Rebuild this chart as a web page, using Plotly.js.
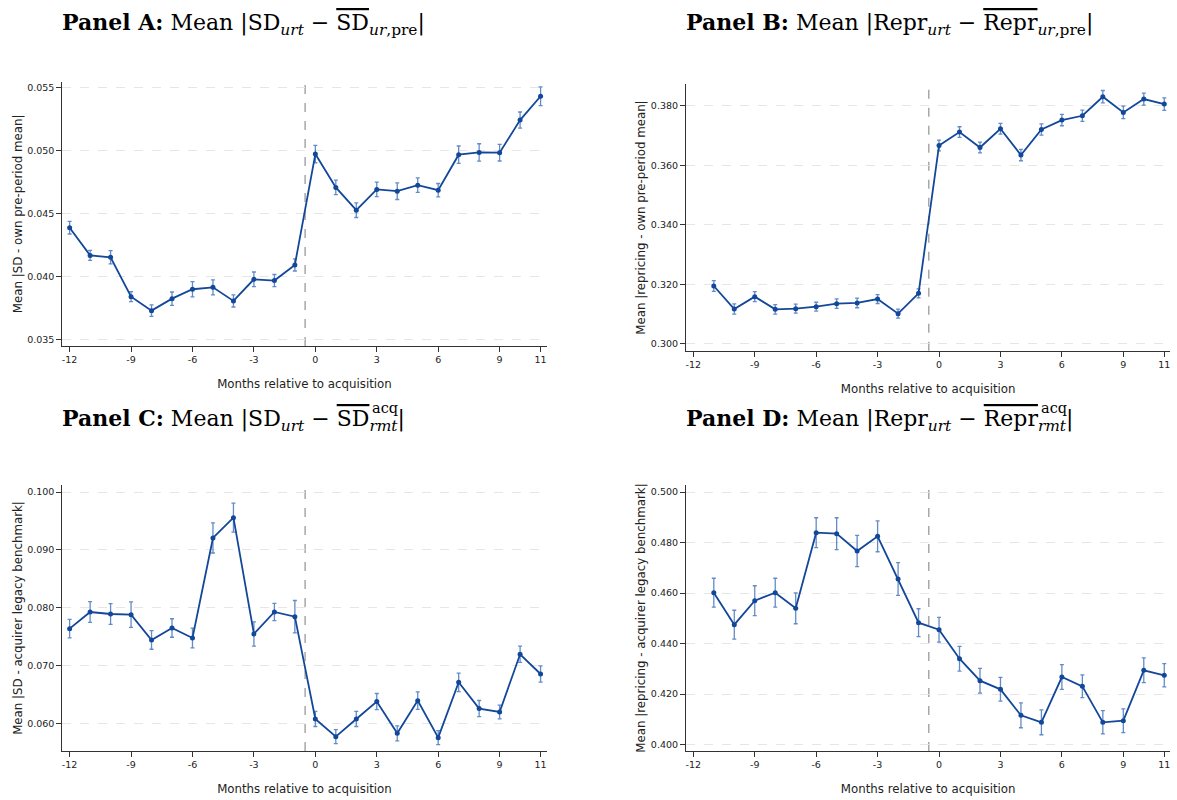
<!DOCTYPE html>
<html>
<head>
<meta charset="utf-8">
<script src="https://cdn.plot.ly/plotly-3.0.1.min.js"></script>
<style>html,body{margin:0;padding:0;background:#fff;}#chart{width:1177px;height:800px;}</style>
</head>
<body>
<div id="chart"></div>
<script>
// Months relative to acquisition
const monthsAC = [-12,-11,-10,-9,-8,-7,-6,-5,-4,-3,-2,-1,0,1,2,3,4,5,6,7,8,9,10,11];
const monthsBD = [-11,-10,-9,-8,-7,-6,-5,-4,-3,-2,-1,0,1,2,3,4,5,6,7,8,9,10,11];
const xTickVals = [-12,-9,-6,-3,0,3,6,9,11];
const xTickText = ['-12','-9','-6','-3','0','3','6','9','11'];

// Panel A: Mean |SD - own pre-period mean|
const meanA = [0.0439,0.0417,0.04155,0.03842,0.03731,0.03826,0.03901,0.03916,0.03808,0.0398,0.0397,0.04094,
               0.04975,0.0471,0.04529,0.04694,0.0468,0.04728,0.04688,0.0497,0.04988,0.04986,0.05245,0.05434];
const errA  = [0.0005,0.0004,0.00053,0.0004,0.00045,0.00053,0.0006,0.0006,0.00048,0.00058,0.00048,0.00048,
               0.00069,0.00058,0.00058,0.00058,0.00066,0.00058,0.00053,0.00069,0.00069,0.00066,0.00064,0.00074];

// Panel B: Mean |repricing - own pre-period mean|
const meanB = [0.3194,0.31167,0.31582,0.31156,0.3118,0.31245,0.31346,0.3137,0.31503,0.3101,0.31694,
               0.36665,0.37114,0.36597,0.37226,0.3634,0.372,0.37518,0.37663,0.38303,0.37776,0.38224,0.38056];
const errB  = [0.0018,0.0017,0.0017,0.0016,0.0015,0.0015,0.0016,0.0016,0.0015,0.0015,0.0015,
               0.0018,0.0018,0.0018,0.0018,0.0019,0.0019,0.0019,0.0019,0.0021,0.0021,0.002,0.0021];

// Panel C: Mean |SD - acquirer legacy benchmark|
const meanC = [0.07637,0.07925,0.0789,0.07879,0.07441,0.07648,0.07476,0.09205,0.09556,0.07545,0.07925,0.07844,
               0.06075,0.05769,0.06075,0.06375,0.05827,0.06392,0.05752,0.06709,0.06254,0.06196,0.07193,0.06853];
const errC  = [0.0016,0.0018,0.0018,0.0022,0.0016,0.0016,0.0017,0.0026,0.0025,0.0021,0.0015,0.0028,
               0.0013,0.0012,0.0013,0.0014,0.0013,0.0015,0.0012,0.0016,0.0014,0.0012,0.0014,0.0014];

// Panel D: Mean |repricing - acquirer legacy benchmark|
const meanD = [0.46016,0.4475,0.457,0.46016,0.45396,0.4839,0.48351,0.47665,0.48246,0.46557,0.44829,
               0.44552,0.43404,0.42533,0.4219,0.41161,0.40884,0.42678,0.42309,0.40884,0.4095,0.42942,0.42744];
const errD  = [0.0057,0.0057,0.0059,0.0057,0.0061,0.0059,0.0063,0.0062,0.0061,0.0065,0.0055,
               0.0049,0.0049,0.0049,0.0047,0.0049,0.0049,0.0049,0.0045,0.0046,0.0047,0.0049,0.0046];

const yTitles = ['Mean |SD - own pre-period mean|','Mean |repricing - own pre-period mean|',
                 'Mean |SD - acquirer legacy benchmark|','Mean |repricing - acquirer legacy benchmark|'];
const xTitle = 'Months relative to acquisition';
const eventLine = -0.5;

const LINE = '#12479a';
const ERR = 'rgba(45,100,180,0.75)';

function trace(x, y, e, xa, ya) {
  return {
    type: 'scatter', mode: 'lines+markers', x: x, y: y, xaxis: xa, yaxis: ya,
    line: {color: LINE, width: 1.8},
    marker: {color: LINE, size: 5},
    error_y: {type: 'data', array: e, visible: true, color: ERR, thickness: 1.3, width: 2},
    showlegend: false, hoverinfo: 'x+y'
  };
}

const data = [
  trace(monthsAC, meanA, errA, 'x', 'y'),
  trace(monthsBD, meanB, errB, 'x2', 'y2'),
  trace(monthsAC, meanC, errC, 'x3', 'y3'),
  trace(monthsBD, meanD, errD, 'x4', 'y4')
];

const tickFont = {family: 'DejaVu Sans', size: 9.5, color: '#222'};
const titleFont = {family: 'DejaVu Sans', size: 11.8, color: '#222'};

function xaxis(domain, anchor) {
  return {
    domain: domain, anchor: anchor, range: [-12.36, 11.3],
    tickvals: xTickVals, ticktext: xTickText, ticks: 'outside', ticklen: 5, tickwidth: 1, tickcolor: '#333',
    showline: true, linecolor: '#333', linewidth: 1, mirror: false,
    showgrid: false, zeroline: false, tickfont: tickFont, automargin: false,
    title: {text: xTitle, font: titleFont, standoff: 15}
  };
}
function yaxis(domain, anchor, range, dtick, title) {
  return {
    domain: domain, anchor: anchor, range: range, dtick: dtick, tick0: 0, tickformat: '.3f',
    ticks: 'outside', ticklen: 5, tickwidth: 1, tickcolor: '#333',
    showline: true, linecolor: '#333', linewidth: 1, mirror: false,
    showgrid: true, gridcolor: '#e6e6e6', gridwidth: 1, griddash: 'dash',
    zeroline: false, tickfont: tickFont, automargin: false,
    title: {text: title, font: titleFont, standoff: 2}
  };
}

const xL = [0.0529, 0.4645], xR = [0.5828, 0.9944];

const SERIF = 'DejaVu Serif, Liberation Serif, serif';
const titleF = {family: SERIF, size: 22, color: '#000'};
const OL = (s) => '<span style="text-decoration:overline">' + s + '</span>';
// target left x and baseline y (pixels) of each panel title
const titles = [
  {x: 60, base: 29.5, text: '<b>Panel A:</b> Mean |SD<sub><i>urt</i></sub> − ' + OL('SD') + '<sub><i>ur</i>,pre</sub>|'},
  {x: 684, base: 29.5, text: '<b>Panel B:</b> Mean |Repr<sub><i>urt</i></sub> − ' + OL('Repr') + '<sub><i>ur</i>,pre</sub>|'},
  {x: 60, base: 426, text: '<b>Panel C:</b> Mean |SD<sub><i>urt</i></sub> − ' + OL('SD') + '<sub><i>rmt</i></sub>|'},
  {x: 684, base: 426, text: '<b>Panel D:</b> Mean |Repr<sub><i>urt</i></sub> − ' + OL('Repr') + '<sub><i>rmt</i></sub>|'}
];
const annotations = titles.map(t => ({
  xref: 'paper', yref: 'paper', x: t.x / 1177, y: 1 - (t.base + 8) / 800, xanchor: 'left', yanchor: 'bottom',
  text: t.text, showarrow: false, font: titleF, align: 'left'
}));
// superscript "acq" stacked above the subscript "rmt" (placed after measuring)
const supF = {family: SERIF, size: 14.5, color: '#000'};
annotations.push({xref: 'paper', yref: 'paper', x: 383 / 1177, y: 1 - 420 / 800, xanchor: 'left', yanchor: 'bottom',
  text: 'acq', showarrow: false, font: supF});
annotations.push({xref: 'paper', yref: 'paper', x: 1010 / 1177, y: 1 - 420 / 800, xanchor: 'left', yanchor: 'bottom',
  text: 'acq', showarrow: false, font: supF});

const shapes = [['x','y'],['x2','y2'],['x3','y3'],['x4','y4']].map(([xa, ya]) => ({
  type: 'line', xref: xa, yref: ya + ' domain', x0: eventLine, x1: eventLine, y0: 0, y1: 1,
  line: {color: '#9a9a9a', width: 1.3, dash: 'dash'}, layer: 'below'
}));

const layout = {
  width: 1177, height: 800, margin: {l: 0, r: 0, t: 0, b: 0},
  paper_bgcolor: '#fff', plot_bgcolor: '#fff', showlegend: false,
  xaxis: xaxis(xL, 'y'),
  yaxis: yaxis([0.5675, 0.8979], 'x', [0.0345, 0.0555], 0.005, yTitles[0]),
  xaxis2: xaxis(xR, 'y2'),
  yaxis2: yaxis([0.5616, 0.8946], 'x2', [0.29765, 0.3872], 0.02, yTitles[1]),
  xaxis3: xaxis(xL, 'y3'),
  yaxis3: yaxis([0.06125, 0.39375], 'x3', [0.05521, 0.10121], 0.01, yTitles[2]),
  xaxis4: xaxis(xR, 'y4'),
  yaxis4: yaxis([0.06125, 0.39375], 'x4', [0.3975, 0.50277], 0.02, yTitles[3]),
  annotations: annotations, shapes: shapes
};

function annText(gd, i) {
  const g = gd.querySelector('.annotation[data-index="' + i + '"]');
  return g ? g.querySelector('.annotation-text') : null;
}
function charPos(el, idx) {
  const p = el.getStartPositionOfChar(idx);
  const svg = el.ownerSVGElement;
  const pt = svg.createSVGPoint(); pt.x = p.x; pt.y = p.y;
  const m = el.getScreenCTM();
  return pt.matrixTransform(m);
}

const gd = document.getElementById('chart');
Plotly.newPlot(gd, data, layout, {displayModeBar: false, staticPlot: true}).then(() => {
  // align title baselines, and put "acq" above "rmt"
  const upd = {};
  const acqTargets = {};
  for (let i = 0; i < 4; i++) {
    const el = annText(gd, i);
    if (!el) continue;
    const p0 = charPos(el, 0);
    const dy = p0.y - titles[i].base;
    upd['annotations[' + i + '].y'] = layout.annotations[i].y + dy / 800;
    if (i >= 2) {
      const idx = el.textContent.lastIndexOf('rmt');
      if (idx >= 0) {
        const pr = charPos(el, idx);
        acqTargets[i + 2] = {x: pr.x + 1, base: titles[i].base - 13};
        upd['annotations[' + (i + 2) + '].x'] = (pr.x + 1) / 1177;
      }
    }
  }
  return Plotly.relayout(gd, upd).then(() => acqTargets);
}).then((acqTargets) => {
  const upd = {};
  Object.keys(acqTargets).forEach(k => {
    const el = annText(gd, +k);
    if (!el) return;
    const p0 = charPos(el, 0);
    const dy = p0.y - acqTargets[k].base;
    upd['annotations[' + k + '].y'] = gd.layout.annotations[+k].y + dy / 800;
  });
  return Plotly.relayout(gd, upd);
});
</script>
</body>
</html>
